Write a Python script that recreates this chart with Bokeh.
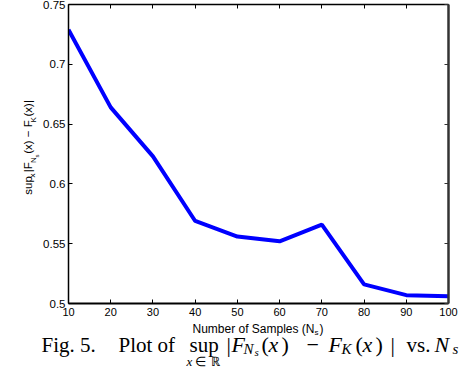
from math import pi
from bokeh.plotting import figure
from bokeh.layouts import column, row
from bokeh.models import LinearAxis, FixedTicker, Range1d
from bokeh.core.properties import value
from bokeh.embed import file_html
from bokeh.resources import INLINE

# ---- data ----
n_samples = [10, 20, 30, 40, 50, 60, 70, 80, 90, 100]
sup_diff = [0.729, 0.664, 0.623, 0.569, 0.556, 0.552, 0.566, 0.516, 0.507, 0.506]
x_ticks = [10, 20, 30, 40, 50, 60, 70, 80, 90, 100]
y_ticks = [0.5, 0.55, 0.6, 0.65, 0.7, 0.75]
y_tick_labels = ["0.5", "0.55", "0.6", "0.65", "0.7", "0.75"]

W, H = 463, 368
LEFT_W = 40          # strip holding the rotated y label
TOP_H = 320          # height of the plot row
X0, X1 = 10, 100
Y0, Y1 = 0.5, 0.75

SANS = "Liberation Sans"
SERIF = "Liberation Serif"

# ---------------- main plot ----------------
p = figure(width=W - LEFT_W, height=TOP_H, x_range=Range1d(X0, X1), y_range=Range1d(Y0, Y1),
           output_backend="svg", toolbar_location=None,
           min_border_left=27, min_border_right=15, min_border_top=4, min_border_bottom=17)
p.outline_line_color = None
p.xgrid.visible = False
p.ygrid.visible = False
p.background_fill_color = "white"
p.border_fill_color = "white"

def style_axis(ax, show_labels=True, lw=1.5, color="black"):
    ax.major_tick_in = 4
    ax.major_tick_out = 0
    ax.minor_tick_line_color = None
    ax.axis_line_width = lw
    ax.axis_line_color = color
    ax.major_tick_line_color = color
    ax.major_tick_line_width = 1
    if show_labels:
        ax.major_label_text_font = SANS
        ax.major_label_text_font_size = "11.5px"
        ax.major_label_text_color = "black"
    else:
        ax.major_label_text_font_size = "0px"
        ax.major_label_text_color = None
        ax.major_label_standoff = 0

xa = p.xaxis[0]
xa.ticker = FixedTicker(ticks=x_ticks)
style_axis(xa, lw=2)
xa.major_label_text_font_size = "11px"
xa.major_label_standoff = 4

ya = p.yaxis[0]
ya.ticker = FixedTicker(ticks=y_ticks)
ya.major_label_overrides = {t: s for t, s in zip(y_ticks, y_tick_labels)}
style_axis(ya)
ya.major_label_standoff = 3

top = LinearAxis(ticker=FixedTicker(ticks=x_ticks))
style_axis(top, show_labels=False)
p.add_layout(top, "above")
right = LinearAxis(ticker=FixedTicker(ticks=y_ticks))
style_axis(right, show_labels=False, lw=2.5, color="#333333")
p.add_layout(right, "right")

p.line(n_samples, sup_diff, line_color="#0000ff", line_width=4)

# ---------------- helper text strips ----------------
def strip(w, h):
    f = figure(width=w, height=h, x_range=Range1d(0, w), y_range=Range1d(0, h),
               output_backend="svg", toolbar_location=None,
               x_axis_type=None, y_axis_type=None, min_border=0)
    f.outline_line_color = None
    f.grid.visible = False
    f.background_fill_color = "white"
    f.border_fill_color = "white"
    return f

ylab = strip(LEFT_W, TOP_H)
cap = strip(W, H - TOP_H)

def put(fig, top_px, text, px, py, size, font=SANS, style="normal", angle=0.0, align="left"):
    # px, py: pixel position in the whole page (from the top-left corner)
    h = fig.height
    fig.text(x=[px], y=[h - (py - top_px)], text=[text], text_font=value(font),
             text_font_size=value(f"{size}px"), text_font_style=style,
             text_color="black", text_align=align, text_baseline="alphabetic",
             angle=angle)

# ---- y-axis label (rotated), laid out along the axis, centred on the frame ----
ARIAL_W = {"s": .5, "u": .556, "p": .556, "x": .5, "|": .26, "F": .611, "N": .722,
           "(": .333, ")": .333, " ": .278, "\u2212": .584, "K": .667}

def tw(t, size):
    return sum(ARIAL_W.get(c, .55) for c in t) * size

M, S1, S2 = 11.5, 8, 6
ylabel_parts = [("sup", M, 0, 0), ("x", S1, 5, 1.5), ("|F", M, 0, 0), ("N", S1, 6, 0),
                ("s", S2, 9, 1), ("(x) \u2212 F", M, 0, 0), ("K", S1, 6, 1), ("(x)|", M, 0, 0)]
total = sum(tw(t, s) + g for t, s, _, g in ylabel_parts)
centre = 4 + 299 / 2
cur = centre + total / 2
BASE_X = 27
for t, s, shift, gap in ylabel_parts:
    put(ylab, 0, t, BASE_X + shift, cur, s, angle=pi / 2)
    cur -= tw(t, s) + gap

# ---- x-axis label: Number of Samples (N_s) ----
put(cap, TOP_H, "Number of Samples (N", 314, 328, 12, align="right")
put(cap, TOP_H, "s", 314, 332, 8)
put(cap, TOP_H, ")", 319, 328, 12)

# ---- caption ----
put(cap, TOP_H, "Fig. 5.", 41, 344, 21, font=SERIF)
put(cap, TOP_H, "Plot of", 118, 344, 21, font=SERIF)
put(cap, TOP_H, "sup", 189, 344, 21, font=SERIF)
put(cap, TOP_H, "x", 186, 361, 13, font=SERIF, style="italic")
put(cap, TOP_H, "\u2208", 194, 361, 13, font=SERIF)
put(cap, TOP_H, "\u211d", 210, 361, 13, font=SERIF)
put(cap, TOP_H, "|", 226, 344, 22, font=SERIF)
put(cap, TOP_H, "F", 231, 344, 22, font=SERIF, style="italic")
put(cap, TOP_H, "N", 243, 348, 15, font=SERIF, style="italic")
put(cap, TOP_H, "s", 254, 351, 11, font=SERIF, style="italic")
put(cap, TOP_H, "(", 261, 344, 22, font=SERIF)
put(cap, TOP_H, "x", 268, 344, 22, font=SERIF, style="italic")
put(cap, TOP_H, ")", 281, 344, 22, font=SERIF)
put(cap, TOP_H, "\u2212", 306, 344, 22, font=SERIF)
put(cap, TOP_H, "F", 328, 344, 22, font=SERIF, style="italic")
put(cap, TOP_H, "K", 341, 348, 15, font=SERIF, style="italic")
put(cap, TOP_H, "(", 355, 344, 22, font=SERIF)
put(cap, TOP_H, "x", 362, 344, 22, font=SERIF, style="italic")
put(cap, TOP_H, ")", 375, 344, 22, font=SERIF)
put(cap, TOP_H, "|", 390, 344, 22, font=SERIF)
put(cap, TOP_H, "vs.", 406, 344, 21, font=SERIF)
put(cap, TOP_H, "N", 434, 344, 22, font=SERIF, style="italic")
put(cap, TOP_H, "s", 452, 348, 15, font=SERIF, style="italic")

layout = column(row(ylab, p, spacing=0), cap, spacing=0)
open("out.html", "w").write(file_html(layout, INLINE))
